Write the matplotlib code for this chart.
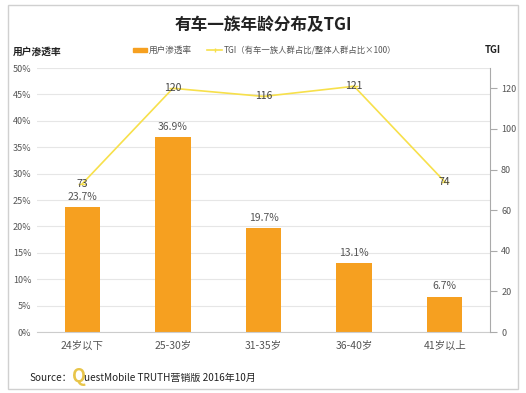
import matplotlib.pyplot as plt
from matplotlib.patches import Rectangle
from matplotlib.lines import Line2D

plt.rcParams['font.family'] = ['Noto Sans CJK SC', 'DejaVu Sans']

# 数据
categories = ['24岁以下', '25-30岁', '31-35岁', '36-40岁', '41岁以上']
penetration = [23.7, 36.9, 19.7, 13.1, 6.7]
tgi = [73, 120, 116, 121, 74]

bar_color = '#F6A020'
line_color = '#F7E04B'
grid_color = '#E6E6E6'
text_color = '#555555'

fig = plt.figure(figsize=(5.26, 3.93), dpi=100)
W, H = 526, 393

# 外框
fig.patches.append(Rectangle((8 / W, 1 - 389 / H), 510 / W, 384 / H,
                             transform=fig.transFigure, fill=False,
                             edgecolor='#D0D0D0', linewidth=1.0))

ax = fig.add_axes([37 / W, 1 - 332 / H, 453 / W, 264 / H])
x = list(range(len(categories)))
ax.bar(x, penetration, width=0.39, color=bar_color, zorder=2)
ax.set_ylim(0, 50)
ax.set_xlim(-0.5, len(categories) - 0.5)
ax.set_yticks(range(0, 51, 5))
ax.set_yticklabels([f'{v}%' for v in range(0, 51, 5)], fontsize=6.5, color=text_color)
ax.set_xticks(x)
ax.set_xticklabels(categories, fontsize=7.5, color=text_color)
ax.tick_params(axis='y', length=0, pad=4)
ax.tick_params(axis='x', length=0, pad=6)
ax.yaxis.grid(True, color=grid_color, linewidth=0.8, zorder=0)
ax.set_axisbelow(True)
for s in ['top', 'right', 'left']:
    ax.spines[s].set_visible(False)
ax.spines['bottom'].set_color('#CCCCCC')

for i, v in enumerate(penetration):
    ax.text(i, v + 1.0, f'{v}%', ha='center', va='bottom', fontsize=7.5, color=text_color)

ax2 = ax.twinx()
ax2.plot(x, tgi, color=line_color, linewidth=1.2, marker='_', markersize=6, zorder=3)
ax2.set_ylim(0, 130)
ax2.set_yticks(range(0, 121, 20))
ax2.tick_params(axis='y', labelsize=6.5, labelcolor=text_color, color='#AAAAAA', length=5, pad=3)
for s in ['top', 'left', 'bottom']:
    ax2.spines[s].set_visible(False)
ax2.spines['right'].set_color('#AAAAAA')
for i, v in enumerate(tgi):
    ax2.text(i, v, str(v), ha='center', va='center', fontsize=7.5, color='#444444', zorder=4)

# 标题
fig.text(263 / W, 1 - 25 / H, '有车一族年龄分布及TGI', ha='center', va='center',
         fontsize=12, fontweight='heavy', color='#222222')
fig.text(13 / W, 1 - 52 / H, '用户渗透率', ha='left', va='center', fontsize=7,
         fontweight='bold', color='#222222')
fig.text(493 / W, 1 - 50 / H, 'TGI', ha='center', va='center', fontsize=7,
         fontweight='bold', color='#222222')

# 图例
fig.patches.append(Rectangle((133 / W, 1 - 51.5 / H), 14 / W, 3.5 / H,
                             transform=fig.transFigure, color=bar_color))
fig.text(149 / W, 1 - 50 / H, '用户渗透率', ha='left', va='center', fontsize=6.2, color=text_color)
fig.lines.append(Line2D([207 / W, 222 / W], [1 - 50 / H, 1 - 50 / H],
                        transform=fig.transFigure, color=line_color, linewidth=1.2))
fig.lines.append(Line2D([214.5 / W], [1 - 50 / H], transform=fig.transFigure,
                        color=line_color, marker='|', markersize=3))
fig.text(224 / W, 1 - 50 / H, 'TGI（有车一族人群占比/整体人群占比×100）', ha='left', va='center',
         fontsize=6, color=text_color)

# 来源
fig.text(29 / W, 1 - 378 / H, 'Source：', ha='left', va='center', fontsize=7.2, color='#222222')
fig.text(72 / W, 1 - 376 / H, 'Q', ha='left', va='center', fontsize=13, color='#E8C54A',
         fontweight='bold')
fig.text(84 / W, 1 - 378 / H, 'uestMobile TRUTH营销版 2016年10月', ha='left', va='center',
         fontsize=7.2, color='#222222')

fig.savefig('out.png', dpi=100)
